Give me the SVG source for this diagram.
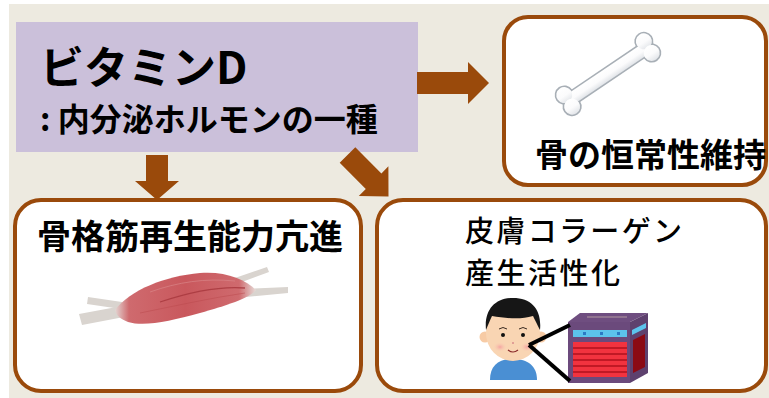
<svg xmlns="http://www.w3.org/2000/svg" width="769" height="398" viewBox="0 0 769 398">
  <style>
    .jp { font-family: "Noto Sans CJK JP", "Noto Sans CJK SC", sans-serif; fill: #000; }
    .b { font-weight: 700; }
    .card { fill: #FFFFFF; stroke: #9A4A0B; stroke-width: 4; }
    .arrow { fill: #9A4A0B; }
    .bone-edge { fill: none; stroke: #A8AFB6; stroke-width: 3.2; }
    .bone-fill { fill: url(#boneShade); }
    .tendon { fill: #D9D4CF; }
  </style>
  <defs>
    <linearGradient id="boneShade" x1="0" y1="0" x2="0" y2="1">
      <stop offset="0" stop-color="#FFFFFF"/>
      <stop offset="0.55" stop-color="#FBFBFC"/>
      <stop offset="1" stop-color="#E2E5E9"/>
    </linearGradient>
    <linearGradient id="muscleBody" x1="0" y1="0" x2="1" y2="0">
      <stop offset="0" stop-color="#E3D6D3"/>
      <stop offset="0.1" stop-color="#CF6A6E"/>
      <stop offset="0.5" stop-color="#C9585D"/>
      <stop offset="0.88" stop-color="#CF6A6E"/>
      <stop offset="1" stop-color="#E6DCD8"/>
    </linearGradient>
    <radialGradient id="cheek" cx="0.5" cy="0.5" r="0.5">
      <stop offset="0" stop-color="#F5A3A0"/>
      <stop offset="1" stop-color="#F9D3B6" stop-opacity="0"/>
    </radialGradient>
  </defs>

  <!-- page background -->
  <rect x="9" y="4" width="760" height="394" fill="#EDEAE0"/>

  <!-- source: vitamin D -->
  <g id="node-vitd">
    <rect x="16" y="22" width="402" height="130" fill="#CBC0DA"/>
    <text class="jp b" x="40" y="84" font-size="44">ビタミンD</text>
    <text class="jp b" x="40" y="131" font-size="32">: 内分泌ホルモンの一種</text>
  </g>

  <!-- bone homeostasis -->
  <g id="node-bone">
    <rect class="card" x="504" y="17" width="262" height="168" rx="24"/>
    <g transform="translate(608,74) rotate(-34)">
      <g class="bone-edge">
        <rect x="-47" y="-6" width="94" height="12"/>
        <circle cx="-48" cy="-7" r="8"/>
        <circle cx="-48" cy="7" r="8"/>
        <circle cx="48" cy="-7" r="8"/>
        <circle cx="48" cy="7" r="8"/>
      </g>
      <g class="bone-fill">
        <rect x="-47" y="-6" width="94" height="12"/>
        <circle cx="-48" cy="-7" r="8"/>
        <circle cx="-48" cy="7" r="8"/>
        <circle cx="48" cy="-7" r="8"/>
        <circle cx="48" cy="7" r="8"/>
      </g>
    </g>
    <text class="jp b" x="535" y="167" font-size="33">骨の恒常性維持</text>
  </g>

  <!-- skeletal muscle -->
  <g id="node-muscle">
    <rect class="card" x="15" y="200" width="346" height="191" rx="26"/>
    <text class="jp b" x="37" y="249" font-size="34">骨格筋再生能力亢進</text>
    <!-- tendons -->
    <path class="tendon" d="M88,297 L122,302 L121,309 L87,304 Z"/>
    <path class="tendon" d="M79,314 L122,306 L124,317 L82,325 Z"/>
    <path class="tendon" d="M232,279 L267,267 L269,272 L234,285 Z"/>
    <path class="tendon" d="M246,289 L288,287 L288,293 L246,297 Z"/>
    <!-- belly -->
    <path fill="url(#muscleBody)" d="M115,310 C130,290 165,276 200,273 C225,271 245,279 256,290 C250,298 225,306 200,313 C170,321 145,327 128,322 C120,319 116,315 115,310 Z"/>
    <path d="M160,302 C190,292 220,286 245,288" fill="none" stroke="#A8383E" stroke-width="1.3" opacity="0.85"/>
    <path d="M140,313 C175,306 210,298 245,293" fill="none" stroke="#B9474C" stroke-width="0.8" opacity="0.6"/>
    <path d="M150,292 C178,282 205,278 235,281" fill="none" stroke="#D98488" stroke-width="1" opacity="0.7"/>
  </g>

  <!-- skin collagen -->
  <g id="node-skin">
    <rect class="card" x="377" y="200" width="389" height="191" rx="26"/>
    <text class="jp" font-weight="500" font-size="29" x="465" y="242" textLength="217" lengthAdjust="spacing">皮膚コラーゲン</text>
    <text class="jp" font-weight="500" font-size="29" x="465" y="284" textLength="155" lengthAdjust="spacing">産生活性化</text>

    <!-- boy -->
    <path d="M490,380 C490,366 498,359 513,359 C528,359 537,366 537,380 Z" fill="#4A8FD3"/>
    <circle cx="485" cy="337" r="5.5" fill="#F7CBA5"/>
    <circle cx="541" cy="337" r="5.5" fill="#F7CBA5"/>
    <ellipse cx="513" cy="333" rx="27" ry="28" fill="#F9D5B3"/>
    <ellipse cx="500" cy="347" rx="7" ry="5" fill="url(#cheek)"/>
    <ellipse cx="527" cy="347" rx="7" ry="5" fill="url(#cheek)"/>
    <path d="M486,330 C484,310 495,298 513,298 C532,298 542,310 540,330 C536,322 534,318 533,316 C520,320 505,318 492,316 C490,320 488,325 486,330 Z" fill="#161616"/>
    <path d="M499,329 q4,-3 8,0 M519,329 q4,-3 8,0" fill="none" stroke="#3A2A20" stroke-width="1"/>
    <circle cx="503" cy="335" r="2" fill="#111"/>
    <circle cx="523" cy="335" r="2" fill="#111"/>
    <circle cx="513" cy="343" r="1" fill="#D98C8C"/>
    <path d="M508,350 q5,4 10,0" fill="none" stroke="#8A2A2A" stroke-width="1.2"/>

    <!-- heater -->
    <path d="M568,322 L580,313 L648,313 L630,322 Z" fill="#6F4E80"/>
    <path d="M630,322 L648,313 L648,373 L630,383 Z" fill="#5E416E"/>
    <rect x="568" y="322" width="62" height="61" fill="#6B4A7C"/>
    <line x1="587" y1="317" x2="627" y2="317" stroke="#B49AA0" stroke-width="1"/>
    <rect x="573" y="330" width="54" height="7" fill="#5CC3EC"/>
    <g fill="#2B7BC4">
      <rect x="583" y="332" width="3" height="3"/>
      <rect x="600" y="332" width="3" height="3"/>
      <rect x="617" y="332" width="3" height="3"/>
    </g>
    <path d="M632,330 L646,323 L646,328 L632,335 Z" fill="#5CC3EC"/>
    <rect x="573" y="342" width="54" height="35" fill="#F2333F"/>
    <g stroke="#B0121E" stroke-width="1.4">
      <line x1="573" y1="348" x2="627" y2="348"/>
      <line x1="573" y1="354" x2="627" y2="354"/>
      <line x1="573" y1="360" x2="627" y2="360"/>
      <line x1="573" y1="366" x2="627" y2="366"/>
      <line x1="573" y1="372" x2="627" y2="372"/>
    </g>
    <path d="M633,340 L645,334 L645,367 L633,373 Z" fill="#8B0A14"/>

    <!-- heat rays to the cheek -->
    <g stroke="#000" stroke-width="4" stroke-linecap="butt">
      <line x1="529" y1="345" x2="570" y2="325"/>
      <line x1="529" y1="345" x2="570" y2="381"/>
    </g>
  </g>

  <!-- connectors -->
  <g id="connectors">
    <polygon class="arrow" points="417,72 468,72 468,62 489,83 468,104 468,94 417,94"/>
    <polygon class="arrow" points="146,155 168,155 168,181 179,181 157,200 135,181 146,181"/>
    <polygon class="arrow" points="355.3,147.2 381.4,173.4 388.4,166.3 388.5,196.5 358.8,196 365.8,189 339.7,162.8"/>
  </g>
</svg>
